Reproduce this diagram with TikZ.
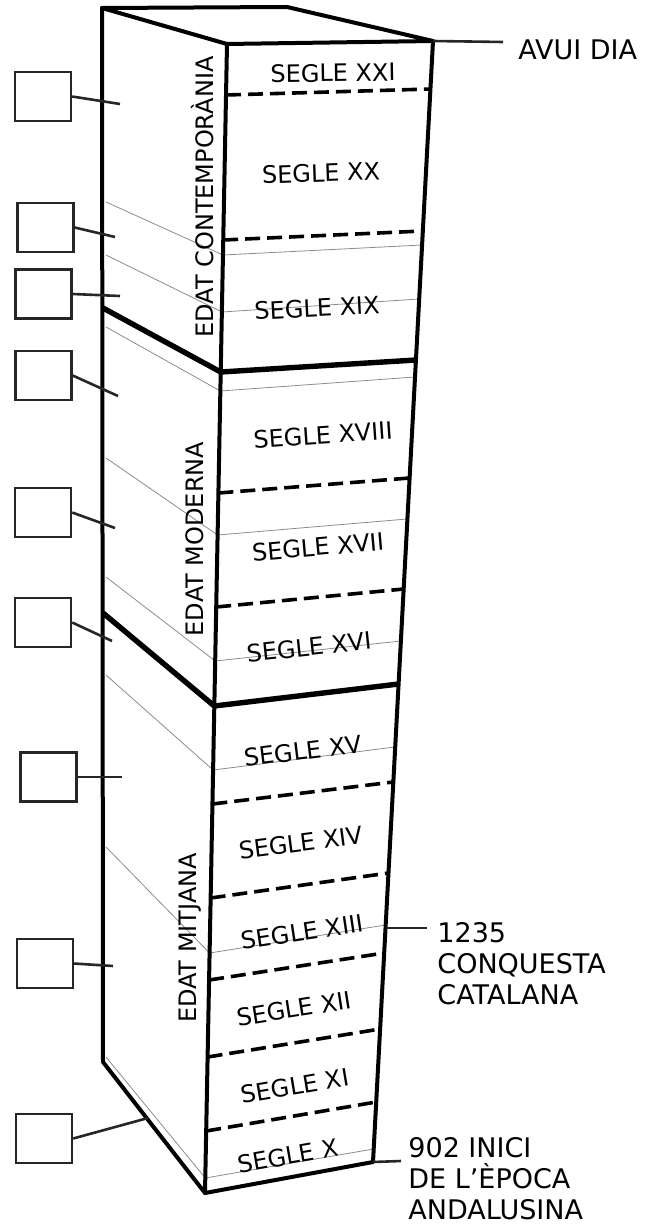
\documentclass[tikz,border=0pt]{standalone}
\usepackage{fontspec}
\setmainfont{DejaVu Sans}
\usetikzlibrary{positioning, calc}

\begin{document}
\begin{tikzpicture}[
    x=0.5pt, y=-0.5pt,
    % Define node styles
    tag/.style={draw=black!85, line width=1.2pt, minimum width=28pt, minimum height=24.5pt, inner sep=0pt},
    segle/.style={font=\fontsize{12}{14}\selectfont, inner sep=0pt, text height=8.7pt, text depth=0pt},
    edat/.style={segle, rotate=90},
    fita/.style={font=\fontsize{13.5}{15.5}\selectfont, align=left, anchor=north west, inner sep=0pt},
    % Define edge styles
    vora/.style={line width=2pt, line join=round, line cap=round},
    tall/.style={line width=2.7pt, line join=round},
    limit/.style={line width=1.8pt, dash pattern=on 7.5pt off 3.5pt},
    fina/.style={line width=0.4pt, black!45},
    link/.style={line width=1.3pt, black!85},
]
\useasboundingbox (0,0) rectangle (646,1225);

% Corners of the column
\coordinate (A) at (102,8);
\coordinate (B) at (287,7);
\coordinate (C) at (227,44);
\coordinate (D) at (433,41);
\coordinate (E) at (373,1162);
\coordinate (F) at (205,1193);
\coordinate (L) at (103,1062);

% Thin guide lines on the side and the front
\foreach \ya/\yb/\xb/\yc/\xc in {202/255/223/245/422, 255/312/222/299/419, 327/391/220.4/377/415,
    458/535/217.6/519/407, 577/661/215.2/641/401, 675/770/213.1/747/395,
    847/953/209.6/925/385.5, 1057/1178/205.3/1149/373.5} {
    \draw[fina] (106,\ya) -- (\xb,\yb) -- (\xc,\yc);
}

% Dashed lines between the centuries
\foreach \ya/\xa/\yb/\xb in {95/226/89/430.4, 240/223.2/231/422.8, 493/218.4/478/409.6,
    607/216.2/589/403.7, 804/212.4/782/393.3, 898/210.6/873/388.5,
    980/209.1/953/384.2, 1057/207.6/1029/380.1, 1131/206.2/1102/376.2} {
    \draw[limit] (\xa,\ya) -- (\xb,\yb);
}

% Thick lines between the ages
\draw[tall] (103,308) -- (220.7,372) -- (416,360);
\draw[tall] (103,613) -- (214.3,706) -- (398.6,684);

% Outline of the column
\draw[vora] (A) -- (B) -- (D) -- (E) -- (F) -- (L) -- cycle;
\draw[vora] (A) -- (C) -- (D);
\draw[vora] (C) -- (F);

% Centuries
\foreach \nom/\x/\y/\ang in {XXI/333/73/1, XX/321/173/2, XIX/317/308/3, XVIII/323/435/4,
    XVII/318/547/5, XVI/309/647/6, XV/303/751/7, XIV/301/843/7.5,
    XIII/302/932/8.5, XII/294/1009/9, XI/295/1086/9.5, X/288/1156/10} {
    \node[segle, rotate=\ang] (s\nom) at (\x,\y) {SEGLE \nom};
}

% Ages
\node[edat] (contemp) at (205,197) {EDAT CONTEMPORÀNIA};
\node[edat] (moderna) at (195,539) {EDAT MODERNA};
\node[edat] (mitjana) at (188,938) {EDAT MITJANA};

% Dates on the right
\node[fita] (avui) at (518,39) {AVUI DIA};
\node[fita] (conq) at (437,922) {1235\\CONQUESTA\\CATALANA};
\node[fita] (inici) at (408,1137) {902 INICI\\DE L’ÈPOCA\\ANDALUSINA};

\coordinate (r1235) at (385.5,928);
\coordinate (k1235) at (427,928);
\coordinate (k902) at (401,1161);
\coordinate (kavui) at (503,42);
\draw[link] (D) -- (kavui);
\draw[link] (r1235) -- (k1235);
\draw[link] (E) -- (k902);

% Empty boxes on the left
\foreach \n/\x/\y/\ex/\ey in {1/43/96.5/120/104, 2/45.5/227.5/115/237, 3/43.5/294/120/296,
    4/43.5/375.5/118/396, 5/43/512.5/115/528, 6/43/622.5/112/641,
    7/48.5/777/122/777, 8/45/963.5/113/966, 9/44/1138.5/148/1118} {
    \node[tag] (b\n) at (\x,\y) {};
    \coordinate (e\n) at (\ex,\ey);
    \draw[link] (b\n.east) -- (e\n);
}

\end{tikzpicture}
\end{document}
